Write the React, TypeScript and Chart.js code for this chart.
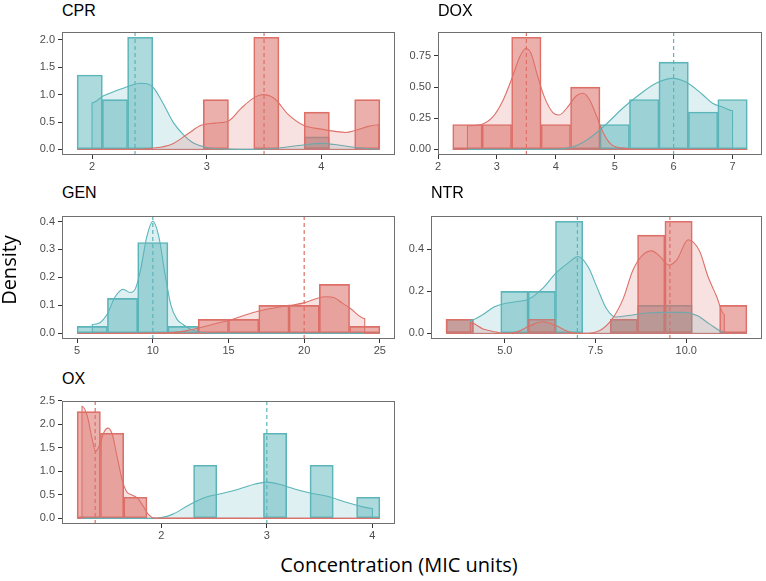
import React, { useEffect, useRef } from "react";
import { Chart, registerables } from "chart.js";

Chart.register(...registerables);

// ---------------- data ----------------
// CPR
const cprEdges = [1.87, 2.09, 2.31, 2.53, 2.75, 2.97, 3.19, 3.41, 3.63, 3.85, 4.07, 4.29, 4.51];
const cprTealBars = [1.36, 0.91, 2.05, 0, 0, 0, 0, 0, 0, 0.23, 0, 0];
const cprRedBars = [0, 0, 0, 0, 0, 0.91, 0, 2.05, 0, 0.68, 0, 0.91];
const cprTealDensX = [2.0, 2.0, 2.1, 2.21, 2.3, 2.42, 2.48, 2.535, 2.62, 2.71, 2.8, 2.88, 3.0, 3.2, 3.4, 3.6, 3.8, 4.0, 4.15, 4.3, 4.5];
const cprTealDensY = [0, 0.85, 0.98, 1.07, 1.14, 1.21, 1.2, 1.13, 0.84, 0.49, 0.26, 0.12, 0.035, 0.005, 0.0, 0.02, 0.07, 0.11, 0.08, 0.035, 0.0];
const cprRedDensX = [2.0, 2.4, 2.52, 2.69, 2.84, 2.95, 3.07, 3.19, 3.3, 3.42, 3.49, 3.59, 3.71, 3.845, 4.0, 4.12, 4.21, 4.3, 4.41, 4.5, 4.5];
const cprRedDensY = [0, 0, 0.02, 0.09, 0.29, 0.44, 0.48, 0.52, 0.75, 0.955, 1.0, 0.93, 0.64, 0.44, 0.37, 0.33, 0.31, 0.35, 0.42, 0.45, 0];
const cprMedians = [2.375, 3.5]; // teal, red
const cprXTicks = [2, 3, 4];
const cprYTicks = [0, 0.5, 1, 1.5, 2];

// DOX
const doxEdges = [2.25, 2.75, 3.25, 3.75, 4.25, 4.75, 5.25, 5.75, 6.25, 6.75, 7.25];
const doxTealBars = [0, 0, 0, 0, 0, 0.2, 0.4, 0.7, 0.3, 0.4];
const doxRedBars = [0.2, 0.2, 0.9, 0.2, 0.5, 0, 0, 0, 0, 0];
const doxTealDensX = [2.5, 3.9, 4.29, 4.57, 4.85, 5.135, 5.42, 5.7, 5.98, 6.21, 6.49, 6.66, 6.83, 7.0, 7.0];
const doxTealDensY = [0, 0, 0.02, 0.09, 0.2, 0.33, 0.44, 0.53, 0.57, 0.54, 0.44, 0.37, 0.34, 0.31, 0];
const doxRedDensX = [2.5, 2.5, 2.735, 2.93, 3.1, 3.27, 3.385, 3.49, 3.58, 3.69, 3.81, 3.95, 4.06, 4.2, 4.35, 4.46, 4.57, 4.685, 4.8, 4.94, 5.14, 5.4, 7.0];
const doxRedDensY = [0, 0.19, 0.2, 0.26, 0.39, 0.59, 0.74, 0.81, 0.77, 0.59, 0.415, 0.295, 0.276, 0.34, 0.43, 0.45, 0.4, 0.276, 0.138, 0.04, 0.01, 0, 0];
const doxMedians = [6.0, 3.5];
const doxXTicks = [2, 3, 4, 5, 6, 7];
const doxYTicks = [0, 0.25, 0.5, 0.75];

// GEN
const genEdges = [5, 7, 9, 11, 13, 15, 17, 19, 21, 23, 25];
const genTealBars = [0.025, 0.125, 0.325, 0.025, 0, 0, 0, 0, 0, 0];
const genRedBars = [0, 0, 0, 0, 0.05, 0.05, 0.1, 0.1, 0.175, 0.025];
const genTealDensX = [6, 6, 6.5, 7.0, 7.5, 8.05, 8.5, 8.85, 9.2, 9.6, 10.0, 10.4, 10.8, 11.2, 11.6, 12.0, 12.5, 13.2, 14, 24];
const genTealDensY = [0, 0.032, 0.038, 0.07, 0.13, 0.158, 0.146, 0.16, 0.23, 0.345, 0.401, 0.345, 0.213, 0.1, 0.05, 0.032, 0.015, 0.004, 0, 0];
const genRedDensX = [6, 11, 12.25, 13, 14, 15, 16, 17, 18, 19, 20, 20.85, 21.4, 21.95, 22.5, 23.05, 24, 24];
const genRedDensY = [0, 0.002, 0.01, 0.019, 0.033, 0.046, 0.064, 0.08, 0.091, 0.1, 0.109, 0.125, 0.131, 0.128, 0.109, 0.089, 0.053, 0];
const genMedians = [10, 20];
const genXTicks = [5, 10, 15, 20, 25];
const genYTicks = [0, 0.1, 0.2, 0.3, 0.4];

// NTR
const ntrEdges = [3.38, 4.134, 4.888, 5.642, 6.396, 7.15, 7.904, 8.658, 9.412, 10.166, 10.92, 11.674];
const ntrTealBars = [0.067, 0, 0.2, 0.2, 0.533, 0, 0.067, 0.133, 0.133, 0, 0];
const ntrRedBars = [0.067, 0, 0, 0.067, 0, 0, 0.067, 0.467, 0.533, 0, 0.133];
const ntrTealDensX = [4.05, 4.05, 4.4, 4.7, 5.0, 5.3, 5.65, 6.05, 6.4, 6.75, 7.02, 7.3, 7.55, 7.8, 8.05, 8.4, 8.9, 9.4, 9.9, 10.3, 10.65, 11.05, 11.05];
const ntrTealDensY = [0, 0.062, 0.09, 0.125, 0.142, 0.15, 0.162, 0.215, 0.285, 0.335, 0.365, 0.315, 0.215, 0.118, 0.078, 0.085, 0.097, 0.1, 0.1, 0.085, 0.044, 0.006, 0];
const ntrRedDensX = [4.05, 4.05, 4.4, 4.77, 5.0, 5.32, 5.69, 6.04, 6.42, 6.78, 7.15, 7.62, 7.98, 8.26, 8.53, 8.81, 9.05, 9.27, 9.52, 9.75, 10.05, 10.37, 10.6, 10.83, 11.05, 11.05];
const ntrRedDensY = [0, 0.051, 0.021, 0.006, 0, 0.006, 0.036, 0.055, 0.036, 0.006, 0, 0.014, 0.074, 0.164, 0.3, 0.374, 0.392, 0.367, 0.325, 0.352, 0.445, 0.39, 0.27, 0.179, 0.09, 0];
const ntrMedians = [7.0, 9.55];
const ntrXTicks = [5, 7.5, 10];
const ntrYTicks = [0, 0.2, 0.4];

// OX
const oxEdges = [1.204, 1.4245, 1.645, 1.8655, 2.086, 2.3065, 2.527, 2.7475, 2.968, 3.1885, 3.409, 3.6295, 3.85, 4.0705];
const oxTealBars = [0, 0, 0, 0, 0, 1.13, 0, 0, 1.81, 0, 1.13, 0, 0.45];
const oxRedBars = [2.27, 1.81, 0.45, 0, 0, 0, 0, 0, 0, 0, 0, 0, 0];
const oxTealDensX = [1.25, 1.93, 2.1, 2.26, 2.42, 2.575, 2.73, 2.89, 3.0, 3.11, 3.27, 3.43, 3.59, 3.74, 3.9, 4.0, 4.0];
const oxTealDensY = [0, 0, 0.08, 0.28, 0.45, 0.53, 0.62, 0.73, 0.77, 0.73, 0.62, 0.53, 0.46, 0.35, 0.25, 0.21, 0];
const oxRedDensX = [1.25, 1.25, 1.3, 1.34, 1.38, 1.42, 1.46, 1.495, 1.535, 1.58, 1.63, 1.675, 1.72, 1.77, 1.83, 1.88, 1.94, 4.0];
const oxRedDensY = [0, 2.385, 2.18, 1.75, 1.43, 1.58, 1.84, 1.92, 1.8, 1.34, 0.82, 0.56, 0.5, 0.44, 0.26, 0.08, 0.005, 0];
const oxMedians = [3.0, 1.375];
const oxXTicks = [2, 3, 4];
const oxYTicks = [0, 0.5, 1, 1.5, 2, 2.5];

// ---------------- styling ----------------
const TEAL = "91,181,186";
const RED = "221,112,104";
const rgba = (c: string, a: number) => `rgba(${c},${a})`;
const TICK_FONT = { family: "'Liberation Sans', Arial, sans-serif", size: 11 };
const YW = 50;
const PT = 2;
const PR = 3;
const XH = 22;

type PanelDef = {
  title: string;
  box: { l: number; t: number; r: number; b: number };
  titleTop: number;
  edges: number[];
  tealBars: number[];
  redBars: number[];
  tealDX: number[];
  tealDY: number[];
  redDX: number[];
  redDY: number[];
  medians: number[];
  xTicks: number[];
  yTicks: number[];
  xDec: number;
  yDec: number;
};

const panels: PanelDef[] = [
  { title: "CPR", box: { l: 62, t: 24, r: 395, b: 155 }, titleTop: 2.5, edges: cprEdges, tealBars: cprTealBars, redBars: cprRedBars, tealDX: cprTealDensX, tealDY: cprTealDensY, redDX: cprRedDensX, redDY: cprRedDensY, medians: cprMedians, xTicks: cprXTicks, yTicks: cprYTicks, xDec: 0, yDec: 1 },
  { title: "DOX", box: { l: 438, t: 24, r: 762, b: 155 }, titleTop: 2.5, edges: doxEdges, tealBars: doxTealBars, redBars: doxRedBars, tealDX: doxTealDensX, tealDY: doxTealDensY, redDX: doxRedDensX, redDY: doxRedDensY, medians: doxMedians, xTicks: doxXTicks, yTicks: doxYTicks, xDec: 0, yDec: 2 },
  { title: "GEN", box: { l: 62, t: 208, r: 395, b: 339 }, titleTop: 184.5, edges: genEdges, tealBars: genTealBars, redBars: genRedBars, tealDX: genTealDensX, tealDY: genTealDensY, redDX: genRedDensX, redDY: genRedDensY, medians: genMedians, xTicks: genXTicks, yTicks: genYTicks, xDec: 0, yDec: 1 },
  { title: "NTR", box: { l: 431, t: 208, r: 762, b: 339 }, titleTop: 184.5, edges: ntrEdges, tealBars: ntrTealBars, redBars: ntrRedBars, tealDX: ntrTealDensX, tealDY: ntrTealDensY, redDX: ntrRedDensX, redDY: ntrRedDensY, medians: ntrMedians, xTicks: ntrXTicks, yTicks: ntrYTicks, xDec: 1, yDec: 1 },
  { title: "OX", box: { l: 62, t: 393, r: 395, b: 524 }, titleTop: 371, edges: oxEdges, tealBars: oxTealBars, redBars: oxRedBars, tealDX: oxTealDensX, tealDY: oxTealDensY, redDX: oxRedDensX, redDY: oxRedDensY, medians: oxMedians, xTicks: oxXTicks, yTicks: oxYTicks, xDec: 0, yDec: 1 },
];

function Panel({ def }: { def: PanelDef }) {
  const ref = useRef<HTMLCanvasElement>(null);
  const { l, t, r, b } = def.box;
  const w = r - l + YW + PR;
  const h = b - t + PT + XH;

  useEffect(() => {
    if (!ref.current) return;
    const pts = (xs: number[], ys: number[]) => xs.map((x, i) => ({ x, y: ys[i] }));
    const edges = def.edges;
    const centers = edges.slice(0, -1).map((e, i) => (e + edges[i + 1]) / 2);
    const first = edges[0];
    const last = edges[edges.length - 1];
    const span = last - first;
    const ymax = Math.max(...def.tealBars, ...def.redBars, ...def.tealDY, ...def.redDY);

    const overlay = {
      id: "overlay",
      afterDatasetsDraw(chart: any) {
        const { ctx, chartArea: a, scales } = chart;
        ctx.save();
        ctx.lineWidth = 1.2;
        ctx.setLineDash([4, 3]);
        const cols = [TEAL, RED];
        def.medians.forEach((m, i) => {
          const px = scales.x.getPixelForValue(m);
          ctx.strokeStyle = rgba(cols[i], 1);
          ctx.beginPath();
          ctx.moveTo(px, a.bottom);
          ctx.lineTo(px, a.top);
          ctx.stroke();
        });
        ctx.setLineDash([]);
        ctx.lineWidth = 1;
        ctx.strokeStyle = "#707070";
        ctx.strokeRect(
          Math.round(a.left) + 0.5,
          Math.round(a.top) + 0.5,
          Math.round(a.right - a.left) - 1,
          Math.round(a.bottom - a.top) - 1
        );
        ctx.restore();
      },
    };

    const barDs = (vals: number[], col: string, alpha: number, order: number) => ({
      type: "bar" as const,
      data: centers.map((x, i) => ({ x, y: vals[i] })),
      backgroundColor: rgba(col, alpha),
      borderColor: rgba(col, 1),
      borderWidth: 1,
      borderSkipped: false,
      grouped: false,
      barPercentage: 1,
      categoryPercentage: 1,
      order,
    });
    const baseDs = (col: string, order: number) => ({
      type: "line" as const,
      data: [
        { x: first, y: 0 },
        { x: last, y: 0 },
      ],
      borderColor: rgba(col, 1),
      borderWidth: 1,
      pointRadius: 0,
      fill: false,
      order,
    });
    const densDs = (xs: number[], ys: number[], col: string, order: number) => ({
      type: "line" as const,
      data: pts(xs, ys),
      borderColor: rgba(col, 1),
      backgroundColor: rgba(col, 0.2),
      borderWidth: 1.1,
      pointRadius: 0,
      fill: "origin",
      cubicInterpolationMode: "monotone",
      order,
    });

    const chart = new Chart(ref.current, {
      type: "bar",
      data: {
        datasets: [
          barDs(def.tealBars, TEAL, 0.5, 7),
          barDs(def.redBars, RED, 0.55, 6),
          baseDs(TEAL, 5),
          baseDs(RED, 4),
          densDs(def.tealDX, def.tealDY, TEAL, 3),
          densDs(def.redDX, def.redDY, RED, 2),
        ] as any,
      },
      options: {
        animation: false,
        responsive: false,
        maintainAspectRatio: false,
        devicePixelRatio: 1,
        layout: { padding: { top: PT, right: PR, left: 0, bottom: 0 } },
        plugins: { legend: { display: false }, tooltip: { enabled: false }, title: { display: false } },
        scales: {
          x: {
            type: "linear",
            min: first - 0.05 * span,
            max: last + 0.05 * span,
            offset: false,
            grid: { display: true, offset: false, drawOnChartArea: false, drawTicks: true, tickLength: 4, color: "#333333" },
            border: { display: false },
            ticks: {
              color: "#4d4d4d",
              font: TICK_FONT,
              padding: 1,
              autoSkip: false,
              maxRotation: 0,
              callback: (v: any) => Number(v).toFixed(def.xDec),
            },
            afterBuildTicks: (s: any) => {
              s.ticks = def.xTicks.map((v) => ({ value: v }));
            },
            afterFit: (s: any) => {
              s.height = XH;
            },
          },
          y: {
            type: "linear",
            min: -0.05 * ymax,
            max: 1.05 * ymax,
            beginAtZero: false,
            grid: { display: true, drawOnChartArea: false, drawTicks: true, tickLength: 4, color: "#333333" },
            border: { display: false },
            ticks: {
              color: "#4d4d4d",
              font: TICK_FONT,
              padding: 3,
              autoSkip: false,
              callback: (v: any) => Number(v).toFixed(def.yDec),
            },
            afterBuildTicks: (s: any) => {
              s.ticks = def.yTicks.map((v) => ({ value: v }));
            },
            afterFit: (s: any) => {
              s.width = YW;
            },
          },
        },
      } as any,
      plugins: [overlay],
    });
    return () => chart.destroy();
  }, []);

  return (
    <>
      <canvas
        ref={ref}
        width={w}
        height={h}
        style={{ position: "absolute", left: l - YW, top: t - PT, width: w, height: h }}
      />
      <div
        style={{
          position: "absolute",
          left: l,
          top: def.titleTop,
          fontFamily: "'Liberation Sans', Arial, sans-serif",
          fontSize: 16,
          lineHeight: "16px",
          color: "#000",
          whiteSpace: "nowrap",
        }}
      >
        {def.title}
      </div>
    </>
  );
}

export default function App() {
  return (
    <div style={{ position: "absolute", left: 0, top: 0, width: 766, height: 581, background: "#fff", overflow: "hidden" }}>
      {panels.map((p) => (
        <Panel key={p.title} def={p} />
      ))}
      <div
        style={{
          position: "absolute",
          left: 9 - 60,
          top: 270 - 12,
          width: 120,
          height: 24,
          lineHeight: "24px",
          textAlign: "center",
          transform: "rotate(-90deg)",
          fontFamily: "'Open Sans', 'Noto Sans', sans-serif",
          fontSize: 20,
          color: "#000",
        }}
      >
        Density
      </div>
      <div
        style={{
          position: "absolute",
          left: 399 - 200,
          top: 555,
          width: 400,
          height: 24,
          lineHeight: "20px",
          textAlign: "center",
          fontFamily: "'Open Sans', 'Noto Sans', sans-serif",
          fontSize: 20,
          color: "#000",
        }}
      >
        Concentration (MIC units)
      </div>
    </div>
  );
}
